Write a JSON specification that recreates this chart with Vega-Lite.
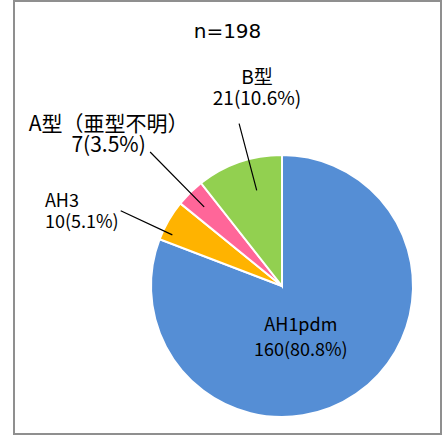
{
  "$schema": "https://vega.github.io/schema/vega-lite/v6.json",
  "width": 427,
  "height": 433,
  "autosize": {"type": "none"},
  "padding": {"left": 14, "top": 1, "right": 1, "bottom": 1},
  "background": "white",
  "config": {
    "view": {"stroke": null},
    "font": "Noto Sans CJK JP",
    "text": {"font": "Noto Sans CJK JP"}
  },
  "title": {
    "text": "n=198",
    "font": "DejaVu Sans",
    "fontSize": 20,
    "fontWeight": "normal",
    "color": "#000000",
    "anchor": "middle",
    "frame": "group",
    "baseline": "alphabetic",
    "offset": -58
  },
  "data": {
    "values": [
      {"type": "AH1pdm", "count": 160, "k": 1, "lbl": "AH1pdm\n160(80.8%)"},
      {"type": "AH3", "count": 10, "k": 2, "lbl": "AH3\n10(5.1%)"},
      {"type": "A型（亜型不明）", "count": 7, "k": 3, "lbl": "A型（亜型不明）\n7(3.5%)"},
      {"type": "B型", "count": 21, "k": 4, "lbl": "B型\n21(10.6%)"}
    ]
  },
  "transform": [
    {"stack": "count", "groupby": [], "sort": [{"field": "k", "order": "ascending"}], "as": ["s0", "s1"]},
    {"fold": ["s0", "s1"], "as": ["edge", "v"]},
    {"aggregate": [{"op": "mean", "field": "v", "as": "mid"}], "groupby": ["type", "count", "k", "lbl"]}
  ],
  "layer": [
    {
      "transform": [{"filter": "datum.k === 1"}],
      "mark": {"type": "rect", "x": 0, "y": 0, "x2": "width", "y2": "height", "fill": null, "filled": false, "stroke": "#8f8f8f", "strokeWidth": 2},
      "encoding": {}
    },
    {
      "mark": {"type": "arc", "x": 268, "y": 285, "outerRadius": 131, "stroke": "white", "strokeWidth": 2},
      "encoding": {
        "theta": {"field": "count", "type": "quantitative", "stack": true, "scale": {"domain": [0, 198]}},
        "order": {"field": "k", "type": "quantitative"},
        "color": {
          "field": "type",
          "type": "nominal",
          "scale": {
            "domain": ["AH1pdm", "AH3", "A型（亜型不明）", "B型"],
            "range": ["#558ED5", "#FFB300", "#FF6699", "#92D050"]
          },
          "legend": null
        }
      }
    },
    {
      "transform": [{"filter": "datum.type === 'A型（亜型不明）'"}],
      "mark": {"type": "arc", "x": 268, "y": 285, "innerRadius": 111, "outerRadius": 188, "stroke": "black", "strokeWidth": 1.2, "fill": "black"},
      "encoding": {
        "theta": {"field": "mid", "type": "quantitative", "stack": null, "scale": {"domain": [0, 198]}},
        "theta2": {"field": "mid"}
      }
    },
    {
      "transform": [{"filter": "datum.type === 'AH3'"}],
      "mark": {"type": "arc", "x": 268, "y": 285, "innerRadius": 121, "outerRadius": 178, "thetaOffset": -0.087, "theta2Offset": -0.087, "stroke": "black", "strokeWidth": 1.2, "fill": "black"},
      "encoding": {
        "theta": {"field": "mid", "type": "quantitative", "stack": null, "scale": {"domain": [0, 198]}},
        "theta2": {"field": "mid"}
      }
    },
    {
      "transform": [{"filter": "datum.type === 'B型'"}],
      "mark": {"type": "arc", "x": 268, "y": 285, "innerRadius": 99, "outerRadius": 168, "thetaOffset": 0.075, "theta2Offset": 0.075, "stroke": "black", "strokeWidth": 1.2, "fill": "black"},
      "encoding": {
        "theta": {"field": "mid", "type": "quantitative", "stack": null, "scale": {"domain": [0, 198]}},
        "theta2": {"field": "mid"}
      }
    },
    {
      "transform": [{"filter": "datum.type === 'AH1pdm'"}],
      "mark": {"type": "text", "x": 268, "y": 285, "radius": 52, "thetaOffset": 0.232, "dy": -8, "align": "center", "baseline": "middle", "fontSize": 18, "lineHeight": 25, "lineBreak": "\n", "color": "black"},
      "encoding": {
        "theta": {"field": "mid", "type": "quantitative", "stack": null, "scale": {"domain": [0, 198]}},
        "text": {"field": "lbl", "type": "nominal"}
      }
    },
    {
      "transform": [{"filter": "datum.type === 'B型'"}],
      "mark": {"type": "text", "x": 268, "y": 285, "radius": 202, "thetaOffset": 0.209, "dy": -8, "align": "center", "baseline": "middle", "fontSize": 19, "lineHeight": 21, "lineBreak": "\n", "color": "black"},
      "encoding": {
        "theta": {"field": "mid", "type": "quantitative", "stack": null, "scale": {"domain": [0, 198]}},
        "text": {"field": "lbl", "type": "nominal"}
      }
    },
    {
      "transform": [{"filter": "datum.type === 'A型（亜型不明）'"}],
      "mark": {"type": "text", "x": 268, "y": 285, "radius": 233, "thetaOffset": -0.062, "dy": -5, "align": "center", "baseline": "middle", "fontSize": 21, "lineHeight": 21, "lineBreak": "\n", "color": "black"},
      "encoding": {
        "theta": {"field": "mid", "type": "quantitative", "stack": null, "scale": {"domain": [0, 198]}},
        "text": {"field": "lbl", "type": "nominal"}
      }
    },
    {
      "transform": [{"filter": "datum.type === 'AH3'"}],
      "mark": {"type": "text", "x": 268, "y": 285, "radius": 249, "thetaOffset": -0.213, "dy": -8, "align": "left", "baseline": "middle", "fontSize": 18, "lineHeight": 21, "lineBreak": "\n", "color": "black"},
      "encoding": {
        "theta": {"field": "mid", "type": "quantitative", "stack": null, "scale": {"domain": [0, 198]}},
        "text": {"field": "lbl", "type": "nominal"}
      }
    }
  ]
}
